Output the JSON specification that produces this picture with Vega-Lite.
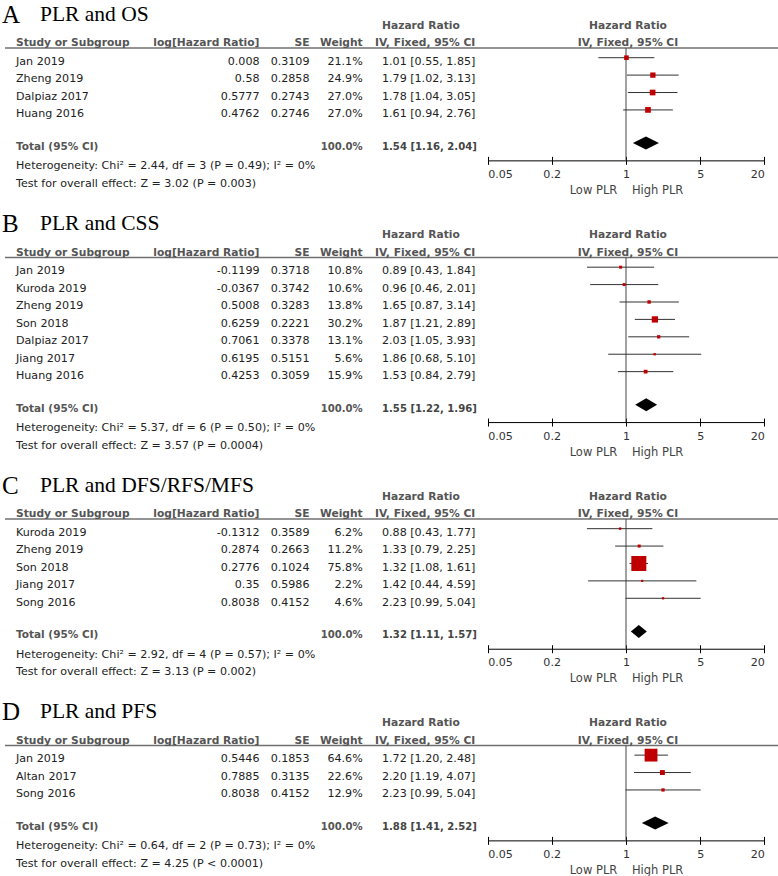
{
"$schema": "https://vega.github.io/schema/vega-lite/v6.json",
"padding": 0,
"autosize": {"type": "pad"},
"background": "white",
"bounds": "flush",
"spacing": 15.48,
"config": {"view": {"stroke": null}, "axis": {"grid": false}},
"resolve": {"scale": {"x": "independent", "y": "independent", "size": "independent"}},
"datasets": {
"titles": [
{"panel":"A","letter":"A","title":"PLR and OS"},
{"panel":"B","letter":"B","title":"PLR and CSS"},
{"panel":"C","letter":"C","title":"PLR and DFS/RFS/MFS"},
{"panel":"D","letter":"D","title":"PLR and PFS"}
],
"headers": [
{"text":"Study or Subgroup","col":2,"row":-1,"anchor":"left"},
{"text":"log[Hazard Ratio]","col":4,"row":-1,"anchor":"right"},
{"text":"SE","col":5,"row":-1,"anchor":"right"},
{"text":"Weight","col":6,"row":-1,"anchor":"right"},
{"text":"Hazard Ratio","col":8,"row":-2,"anchor":"left"},
{"text":"IV, Fixed, 95% CI","col":7,"row":-1,"anchor":"left"},
{"text":"Hazard Ratio","col":9,"row":-2,"anchor":"center"},
{"text":"IV, Fixed, 95% CI","col":9,"row":-1,"anchor":"center"}
],
"studies": [
{"panel":"A","row":0,"study":"Jan 2019","lhr":0.008,"se":0.3109,"w":0.211,"hr":1.01,"lo":0.55,"hi":1.85,"ci":"1.01 [0.55, 1.85]"},
{"panel":"A","row":1,"study":"Zheng 2019","lhr":0.58,"se":0.2858,"w":0.249,"hr":1.79,"lo":1.02,"hi":3.13,"ci":"1.79 [1.02, 3.13]"},
{"panel":"A","row":2,"study":"Dalpiaz 2017","lhr":0.5777,"se":0.2743,"w":0.27,"hr":1.78,"lo":1.04,"hi":3.05,"ci":"1.78 [1.04, 3.05]"},
{"panel":"A","row":3,"study":"Huang 2016","lhr":0.4762,"se":0.2746,"w":0.27,"hr":1.61,"lo":0.94,"hi":2.76,"ci":"1.61 [0.94, 2.76]"},
{"panel":"B","row":0,"study":"Jan 2019","lhr":-0.1199,"se":0.3718,"w":0.108,"hr":0.89,"lo":0.43,"hi":1.84,"ci":"0.89 [0.43, 1.84]"},
{"panel":"B","row":1,"study":"Kuroda 2019","lhr":-0.0367,"se":0.3742,"w":0.106,"hr":0.96,"lo":0.46,"hi":2.01,"ci":"0.96 [0.46, 2.01]"},
{"panel":"B","row":2,"study":"Zheng 2019","lhr":0.5008,"se":0.3283,"w":0.138,"hr":1.65,"lo":0.87,"hi":3.14,"ci":"1.65 [0.87, 3.14]"},
{"panel":"B","row":3,"study":"Son 2018","lhr":0.6259,"se":0.2221,"w":0.302,"hr":1.87,"lo":1.21,"hi":2.89,"ci":"1.87 [1.21, 2.89]"},
{"panel":"B","row":4,"study":"Dalpiaz 2017","lhr":0.7061,"se":0.3378,"w":0.131,"hr":2.03,"lo":1.05,"hi":3.93,"ci":"2.03 [1.05, 3.93]"},
{"panel":"B","row":5,"study":"Jiang 2017","lhr":0.6195,"se":0.5151,"w":0.056,"hr":1.86,"lo":0.68,"hi":5.10,"ci":"1.86 [0.68, 5.10]"},
{"panel":"B","row":6,"study":"Huang 2016","lhr":0.4253,"se":0.3059,"w":0.159,"hr":1.53,"lo":0.84,"hi":2.79,"ci":"1.53 [0.84, 2.79]"},
{"panel":"C","row":0,"study":"Kuroda 2019","lhr":-0.1312,"se":0.3589,"w":0.062,"hr":0.88,"lo":0.43,"hi":1.77,"ci":"0.88 [0.43, 1.77]"},
{"panel":"C","row":1,"study":"Zheng 2019","lhr":0.2874,"se":0.2663,"w":0.112,"hr":1.33,"lo":0.79,"hi":2.25,"ci":"1.33 [0.79, 2.25]"},
{"panel":"C","row":2,"study":"Son 2018","lhr":0.2776,"se":0.1024,"w":0.758,"hr":1.32,"lo":1.08,"hi":1.61,"ci":"1.32 [1.08, 1.61]"},
{"panel":"C","row":3,"study":"Jiang 2017","lhr":0.35,"se":0.5986,"w":0.022,"hr":1.42,"lo":0.44,"hi":4.59,"ci":"1.42 [0.44, 4.59]"},
{"panel":"C","row":4,"study":"Song 2016","lhr":0.8038,"se":0.4152,"w":0.046,"hr":2.23,"lo":0.99,"hi":5.04,"ci":"2.23 [0.99, 5.04]"},
{"panel":"D","row":0,"study":"Jan 2019","lhr":0.5446,"se":0.1853,"w":0.646,"hr":1.72,"lo":1.20,"hi":2.48,"ci":"1.72 [1.20, 2.48]"},
{"panel":"D","row":1,"study":"Altan 2017","lhr":0.7885,"se":0.3135,"w":0.226,"hr":2.20,"lo":1.19,"hi":4.07,"ci":"2.20 [1.19, 4.07]"},
{"panel":"D","row":2,"study":"Song 2016","lhr":0.8038,"se":0.4152,"w":0.129,"hr":2.23,"lo":0.99,"hi":5.04,"ci":"2.23 [0.99, 5.04]"}
],
"totals": [
{"panel":"A","row":5,"label":"Total (95% CI)","w":1,"hr":1.54,"lo":1.16,"hi":2.04,"ci":"1.54 [1.16, 2.04]"},
{"panel":"B","row":8,"label":"Total (95% CI)","w":1,"hr":1.55,"lo":1.22,"hi":1.96,"ci":"1.55 [1.22, 1.96]"},
{"panel":"C","row":6,"label":"Total (95% CI)","w":1,"hr":1.32,"lo":1.11,"hi":1.57,"ci":"1.32 [1.11, 1.57]"},
{"panel":"D","row":4,"label":"Total (95% CI)","w":1,"hr":1.88,"lo":1.41,"hi":2.52,"ci":"1.88 [1.41, 2.52]"}
],
"notes": [
{"panel":"A","row":6,"text":"Heterogeneity: Chi² = 2.44, df = 3 (P = 0.49); I² = 0%"},
{"panel":"A","row":7,"text":"Test for overall effect: Z = 3.02 (P = 0.003)"},
{"panel":"B","row":9,"text":"Heterogeneity: Chi² = 5.37, df = 6 (P = 0.50); I² = 0%"},
{"panel":"B","row":10,"text":"Test for overall effect: Z = 3.57 (P = 0.0004)"},
{"panel":"C","row":7,"text":"Heterogeneity: Chi² = 2.92, df = 4 (P = 0.57); I² = 0%"},
{"panel":"C","row":8,"text":"Test for overall effect: Z = 3.13 (P = 0.002)"},
{"panel":"D","row":5,"text":"Heterogeneity: Chi² = 0.64, df = 2 (P = 0.73); I² = 0%"},
{"panel":"D","row":6,"text":"Test for overall effect: Z = 4.25 (P < 0.0001)"}
]
},
"vconcat": [
{
"width": 778, "height": 193.44,
"data": {"name": "titles"},
"transform": [{"filter": "datum.panel == 'A'"}],
"resolve": {"scale": {"x": "independent"}, "axis": {"x": "independent"}},
"layer": [
{"mark":{"type":"rule","stroke":"#707070","strokeWidth":1.5},"encoding":{"x":{"datum":1,"type":"quantitative","scale":{"type":"linear","domain":[0,1,2,3,4,5,6,7,8,9,10],"range":[2,5,16,40,259.5,309.5,362.7,375,382,628,778],"zero":false,"nice":false},"axis":null},"x2":{"datum":10},"y":{"datum":-0.8,"type":"quantitative","scale":{"domain":[-3.561,7.55],"reverse":true,"nice":false,"zero":false},"axis":null}}},
{"mark":{"type":"text","font":"Liberation Serif","fontSize":25,"color":"#000","align":"left","baseline":"alphabetic"},"encoding":{"x":{"datum":0,"type":"quantitative","scale":{"type":"linear","domain":[0,1,2,3,4,5,6,7,8,9,10],"range":[2,5,16,40,259.5,309.5,362.7,375,382,628,778],"zero":false,"nice":false},"axis":null},"y":{"datum":-2.263,"type":"quantitative","scale":{"domain":[-3.561,7.55],"reverse":true,"nice":false,"zero":false},"axis":null},"text":{"field":"letter","type":"nominal"}}},
{"mark":{"type":"text","font":"Liberation Serif","fontSize":21.5,"color":"#000","align":"left","baseline":"alphabetic"},"encoding":{"x":{"datum":3,"type":"quantitative","scale":{"type":"linear","domain":[0,1,2,3,4,5,6,7,8,9,10],"range":[2,5,16,40,259.5,309.5,362.7,375,382,628,778],"zero":false,"nice":false},"axis":null},"y":{"datum":-2.36,"type":"quantitative","scale":{"domain":[-3.561,7.55],"reverse":true,"nice":false,"zero":false},"axis":null},"text":{"field":"title","type":"nominal"}}},
{"data":{"name":"headers"},"transform":[{"filter":"datum.anchor == 'left'"}],"mark":{"type":"text","font":"DejaVu Sans","fontSize":10.7,"fontWeight":"bold","color":"#555","align":"left","baseline":"middle","dy":-1.2},"encoding":{"x":{"field":"col","type":"quantitative","scale":{"type":"linear","domain":[0,1,2,3,4,5,6,7,8,9,10],"range":[2,5,16,40,259.5,309.5,362.7,375,382,628,778],"zero":false,"nice":false},"axis":null},"y":{"field":"row","type":"quantitative","scale":{"domain":[-3.561,7.55],"reverse":true,"nice":false,"zero":false},"axis":null},"text":{"field":"text","type":"nominal"}}},
{"data":{"name":"headers"},"transform":[{"filter":"datum.anchor == 'right'"}],"mark":{"type":"text","font":"DejaVu Sans","fontSize":10.7,"fontWeight":"bold","color":"#555","align":"right","baseline":"middle","dy":-1.2},"encoding":{"x":{"field":"col","type":"quantitative","scale":{"type":"linear","domain":[0,1,2,3,4,5,6,7,8,9,10],"range":[2,5,16,40,259.5,309.5,362.7,375,382,628,778],"zero":false,"nice":false},"axis":null},"y":{"field":"row","type":"quantitative","scale":{"domain":[-3.561,7.55],"reverse":true,"nice":false,"zero":false},"axis":null},"text":{"field":"text","type":"nominal"}}},
{"data":{"name":"headers"},"transform":[{"filter":"datum.anchor == 'center'"}],"mark":{"type":"text","font":"DejaVu Sans","fontSize":10.7,"fontWeight":"bold","color":"#555","align":"center","baseline":"middle","dy":-1.2},"encoding":{"x":{"field":"col","type":"quantitative","scale":{"type":"linear","domain":[0,1,2,3,4,5,6,7,8,9,10],"range":[2,5,16,40,259.5,309.5,362.7,375,382,628,778],"zero":false,"nice":false},"axis":null},"y":{"field":"row","type":"quantitative","scale":{"domain":[-3.561,7.55],"reverse":true,"nice":false,"zero":false},"axis":null},"text":{"field":"text","type":"nominal"}}},
{"data":{"name":"studies"},"transform":[{"filter":"datum.panel == 'A'"}],"mark":{"type":"text","font":"DejaVu Sans","fontSize":11.1,"color":"#222","align":"left","baseline":"middle"},"encoding":{"x":{"datum":2,"type":"quantitative","scale":{"type":"linear","domain":[0,1,2,3,4,5,6,7,8,9,10],"range":[2,5,16,40,259.5,309.5,362.7,375,382,628,778],"zero":false,"nice":false},"axis":null},"y":{"field":"row","type":"quantitative","scale":{"domain":[-3.561,7.55],"reverse":true,"nice":false,"zero":false},"axis":null},"text":{"field":"study","type":"nominal"}}},
{"data":{"name":"studies"},"transform":[{"filter":"datum.panel == 'A'"}],"mark":{"type":"text","font":"DejaVu Sans","fontSize":11.1,"color":"#222","align":"right","baseline":"middle"},"encoding":{"x":{"datum":4,"type":"quantitative","scale":{"type":"linear","domain":[0,1,2,3,4,5,6,7,8,9,10],"range":[2,5,16,40,259.5,309.5,362.7,375,382,628,778],"zero":false,"nice":false},"axis":null},"y":{"field":"row","type":"quantitative","scale":{"domain":[-3.561,7.55],"reverse":true,"nice":false,"zero":false},"axis":null},"text":{"field":"lhr","type":"nominal"}}},
{"data":{"name":"studies"},"transform":[{"filter":"datum.panel == 'A'"}],"mark":{"type":"text","font":"DejaVu Sans","fontSize":11.1,"color":"#222","align":"right","baseline":"middle"},"encoding":{"x":{"datum":5,"type":"quantitative","scale":{"type":"linear","domain":[0,1,2,3,4,5,6,7,8,9,10],"range":[2,5,16,40,259.5,309.5,362.7,375,382,628,778],"zero":false,"nice":false},"axis":null},"y":{"field":"row","type":"quantitative","scale":{"domain":[-3.561,7.55],"reverse":true,"nice":false,"zero":false},"axis":null},"text":{"field":"se","type":"nominal"}}},
{"data":{"name":"studies"},"transform":[{"filter":"datum.panel == 'A'"}],"mark":{"type":"text","font":"DejaVu Sans","fontSize":11.1,"color":"#222","align":"right","baseline":"middle"},"encoding":{"x":{"datum":6,"type":"quantitative","scale":{"type":"linear","domain":[0,1,2,3,4,5,6,7,8,9,10],"range":[2,5,16,40,259.5,309.5,362.7,375,382,628,778],"zero":false,"nice":false},"axis":null},"y":{"field":"row","type":"quantitative","scale":{"domain":[-3.561,7.55],"reverse":true,"nice":false,"zero":false},"axis":null},"text":{"field":"w","type":"quantitative","format":".1%"}}},
{"data":{"name":"studies"},"transform":[{"filter":"datum.panel == 'A'"}],"mark":{"type":"text","font":"DejaVu Sans","fontSize":11.1,"color":"#222","align":"left","baseline":"middle"},"encoding":{"x":{"datum":8,"type":"quantitative","scale":{"type":"linear","domain":[0,1,2,3,4,5,6,7,8,9,10],"range":[2,5,16,40,259.5,309.5,362.7,375,382,628,778],"zero":false,"nice":false},"axis":null},"y":{"field":"row","type":"quantitative","scale":{"domain":[-3.561,7.55],"reverse":true,"nice":false,"zero":false},"axis":null},"text":{"field":"ci","type":"nominal"}}},
{"data":{"name":"totals"},"transform":[{"filter":"datum.panel == 'A'"}],"mark":{"type":"text","font":"DejaVu Sans","fontSize":10.5,"fontWeight":"bold","color":"#555","align":"left","baseline":"middle","dy":-2},"encoding":{"x":{"datum":2,"type":"quantitative","scale":{"type":"linear","domain":[0,1,2,3,4,5,6,7,8,9,10],"range":[2,5,16,40,259.5,309.5,362.7,375,382,628,778],"zero":false,"nice":false},"axis":null},"y":{"field":"row","type":"quantitative","scale":{"domain":[-3.561,7.55],"reverse":true,"nice":false,"zero":false},"axis":null},"text":{"field":"label","type":"nominal"}}},
{"data":{"name":"totals"},"transform":[{"filter":"datum.panel == 'A'"}],"mark":{"type":"text","font":"DejaVu Sans","fontSize":10.1,"fontWeight":"bold","color":"#555","align":"right","baseline":"middle","dy":-2},"encoding":{"x":{"datum":6,"type":"quantitative","scale":{"type":"linear","domain":[0,1,2,3,4,5,6,7,8,9,10],"range":[2,5,16,40,259.5,309.5,362.7,375,382,628,778],"zero":false,"nice":false},"axis":null},"y":{"field":"row","type":"quantitative","scale":{"domain":[-3.561,7.55],"reverse":true,"nice":false,"zero":false},"axis":null},"text":{"field":"w","type":"quantitative","format":".1%"}}},
{"data":{"name":"totals"},"transform":[{"filter":"datum.panel == 'A'"}],"mark":{"type":"text","font":"DejaVu Sans","fontSize":10.1,"fontWeight":"bold","color":"#444","align":"left","baseline":"middle","dy":-2},"encoding":{"x":{"datum":8,"type":"quantitative","scale":{"type":"linear","domain":[0,1,2,3,4,5,6,7,8,9,10],"range":[2,5,16,40,259.5,309.5,362.7,375,382,628,778],"zero":false,"nice":false},"axis":null},"y":{"field":"row","type":"quantitative","scale":{"domain":[-3.561,7.55],"reverse":true,"nice":false,"zero":false},"axis":null},"text":{"field":"ci","type":"nominal"}}},
{"data":{"name":"notes"},"transform":[{"filter":"datum.panel == 'A'"}],"mark":{"type":"text","font":"DejaVu Sans","fontSize":11.1,"color":"#222","align":"left","baseline":"middle"},"encoding":{"x":{"datum":2,"type":"quantitative","scale":{"type":"linear","domain":[0,1,2,3,4,5,6,7,8,9,10],"range":[2,5,16,40,259.5,309.5,362.7,375,382,628,778],"zero":false,"nice":false},"axis":null},"y":{"field":"row","type":"quantitative","scale":{"domain":[-3.561,7.55],"reverse":true,"nice":false,"zero":false},"axis":null},"text":{"field":"text","type":"nominal"}}},
{"mark":{"type":"rule","stroke":"#444","strokeWidth":1},"encoding":{"x":{"datum":1,"type":"quantitative","scale":{"type":"log","domain":[0.05,20],"range":[487.7,764.3],"nice":false},"axis":{"orient":"top","offset":-160.36,"values":[0.05,0.2,1,5,20],"grid":false,"domain":false,"labels":false,"ticks":true,"tickColor":"#000","tickSize":4,"tickWidth":1,"title":null}},"y":{"datum":-0.8,"type":"quantitative","scale":{"domain":[-3.561,7.55],"reverse":true,"nice":false,"zero":false},"axis":null},"y2":{"datum":5.65}}},
{"data":{"name":"studies"},"transform":[{"filter":"datum.panel == 'A'"}],"mark":{"type":"rule","stroke":"#333","strokeWidth":1,"yOffset":-4.3},"encoding":{"x":{"field":"lo","type":"quantitative","scale":{"type":"log","domain":[0.05,20],"range":[487.7,764.3],"nice":false},"axis":null},"x2":{"field":"hi"},"y":{"field":"row","type":"quantitative","scale":{"domain":[-3.561,7.55],"reverse":true,"nice":false,"zero":false},"axis":null}}},
{"data":{"name":"studies"},"transform":[{"filter":"datum.panel == 'A'"}],"mark":{"type":"point","shape":"square","filled":true,"color":"#c00000","opacity":1,"yOffset":-4.3},"encoding":{"x":{"field":"hr","type":"quantitative","scale":{"type":"log","domain":[0.05,20],"range":[487.7,764.3],"nice":false},"axis":{"orient":"bottom","offset":-33.08,"values":[0.05,0.2,1,5,20],"format":"~g","grid":false,"domainColor":"#000","domainWidth":1,"tickColor":"#000","tickSize":4,"tickWidth":1,"labelFont":"DejaVu Sans","labelFontSize":11.1,"labelColor":"#333","labelPadding":4,"labelFlush":true,"labelOverlap":false,"title":"Low PLR\u00a0\u00a0\u00a0\u00a0High PLR","titleFont":"DejaVu Sans","titleFontSize":11.5,"titleFontWeight":"normal","titleColor":"#444","titlePadding":5}},"y":{"field":"row","type":"quantitative","scale":{"domain":[-3.561,7.55],"reverse":true,"nice":false,"zero":false},"axis":null},"size":{"field":"w","type":"quantitative","scale":{"type":"pow","exponent":2,"domain":[0,1],"range":[4.4,388.4]},"legend":null}}},
{"data":{"name":"totals"},"transform":[{"filter":"datum.panel == 'A'"},{"fold":["lo","hr","hi"],"as":["key","x"]}],"mark":{"type":"area","color":"#000","yOffset":{"expr":"datum.key === 'hr' ? -12.5 : -6"},"y2Offset":{"expr":"datum.key === 'hr' ? 0.5 : -6"}},"encoding":{"x":{"field":"x","type":"quantitative","scale":{"type":"log","domain":[0.05,20],"range":[487.7,764.3],"nice":false},"axis":null},"y":{"field":"row","type":"quantitative","scale":{"domain":[-3.561,7.55],"reverse":true,"nice":false,"zero":false},"axis":null},"y2":{"field":"row"}}}
]
},
{
"width": 778, "height": 245.67,
"data": {"name": "titles"},
"transform": [{"filter": "datum.panel == 'B'"}],
"resolve": {"scale": {"x": "independent"}, "axis": {"x": "independent"}},
"layer": [
{"mark":{"type":"rule","stroke":"#707070","strokeWidth":1.5},"encoding":{"x":{"datum":1,"type":"quantitative","scale":{"type":"linear","domain":[0,1,2,3,4,5,6,7,8,9,10],"range":[2,5,16,40,259.5,309.5,362.7,375,382,628,778],"zero":false,"nice":false},"axis":null},"x2":{"datum":10},"y":{"datum":-0.8,"type":"quantitative","scale":{"domain":[-3.561,10.55],"reverse":true,"nice":false,"zero":false},"axis":null}}},
{"mark":{"type":"text","font":"Liberation Serif","fontSize":25,"color":"#000","align":"left","baseline":"alphabetic"},"encoding":{"x":{"datum":0,"type":"quantitative","scale":{"type":"linear","domain":[0,1,2,3,4,5,6,7,8,9,10],"range":[2,5,16,40,259.5,309.5,362.7,375,382,628,778],"zero":false,"nice":false},"axis":null},"y":{"datum":-2.263,"type":"quantitative","scale":{"domain":[-3.561,10.55],"reverse":true,"nice":false,"zero":false},"axis":null},"text":{"field":"letter","type":"nominal"}}},
{"mark":{"type":"text","font":"Liberation Serif","fontSize":21.5,"color":"#000","align":"left","baseline":"alphabetic"},"encoding":{"x":{"datum":3,"type":"quantitative","scale":{"type":"linear","domain":[0,1,2,3,4,5,6,7,8,9,10],"range":[2,5,16,40,259.5,309.5,362.7,375,382,628,778],"zero":false,"nice":false},"axis":null},"y":{"datum":-2.36,"type":"quantitative","scale":{"domain":[-3.561,10.55],"reverse":true,"nice":false,"zero":false},"axis":null},"text":{"field":"title","type":"nominal"}}},
{"data":{"name":"headers"},"transform":[{"filter":"datum.anchor == 'left'"}],"mark":{"type":"text","font":"DejaVu Sans","fontSize":10.7,"fontWeight":"bold","color":"#555","align":"left","baseline":"middle","dy":-1.2},"encoding":{"x":{"field":"col","type":"quantitative","scale":{"type":"linear","domain":[0,1,2,3,4,5,6,7,8,9,10],"range":[2,5,16,40,259.5,309.5,362.7,375,382,628,778],"zero":false,"nice":false},"axis":null},"y":{"field":"row","type":"quantitative","scale":{"domain":[-3.561,10.55],"reverse":true,"nice":false,"zero":false},"axis":null},"text":{"field":"text","type":"nominal"}}},
{"data":{"name":"headers"},"transform":[{"filter":"datum.anchor == 'right'"}],"mark":{"type":"text","font":"DejaVu Sans","fontSize":10.7,"fontWeight":"bold","color":"#555","align":"right","baseline":"middle","dy":-1.2},"encoding":{"x":{"field":"col","type":"quantitative","scale":{"type":"linear","domain":[0,1,2,3,4,5,6,7,8,9,10],"range":[2,5,16,40,259.5,309.5,362.7,375,382,628,778],"zero":false,"nice":false},"axis":null},"y":{"field":"row","type":"quantitative","scale":{"domain":[-3.561,10.55],"reverse":true,"nice":false,"zero":false},"axis":null},"text":{"field":"text","type":"nominal"}}},
{"data":{"name":"headers"},"transform":[{"filter":"datum.anchor == 'center'"}],"mark":{"type":"text","font":"DejaVu Sans","fontSize":10.7,"fontWeight":"bold","color":"#555","align":"center","baseline":"middle","dy":-1.2},"encoding":{"x":{"field":"col","type":"quantitative","scale":{"type":"linear","domain":[0,1,2,3,4,5,6,7,8,9,10],"range":[2,5,16,40,259.5,309.5,362.7,375,382,628,778],"zero":false,"nice":false},"axis":null},"y":{"field":"row","type":"quantitative","scale":{"domain":[-3.561,10.55],"reverse":true,"nice":false,"zero":false},"axis":null},"text":{"field":"text","type":"nominal"}}},
{"data":{"name":"studies"},"transform":[{"filter":"datum.panel == 'B'"}],"mark":{"type":"text","font":"DejaVu Sans","fontSize":11.1,"color":"#222","align":"left","baseline":"middle"},"encoding":{"x":{"datum":2,"type":"quantitative","scale":{"type":"linear","domain":[0,1,2,3,4,5,6,7,8,9,10],"range":[2,5,16,40,259.5,309.5,362.7,375,382,628,778],"zero":false,"nice":false},"axis":null},"y":{"field":"row","type":"quantitative","scale":{"domain":[-3.561,10.55],"reverse":true,"nice":false,"zero":false},"axis":null},"text":{"field":"study","type":"nominal"}}},
{"data":{"name":"studies"},"transform":[{"filter":"datum.panel == 'B'"}],"mark":{"type":"text","font":"DejaVu Sans","fontSize":11.1,"color":"#222","align":"right","baseline":"middle"},"encoding":{"x":{"datum":4,"type":"quantitative","scale":{"type":"linear","domain":[0,1,2,3,4,5,6,7,8,9,10],"range":[2,5,16,40,259.5,309.5,362.7,375,382,628,778],"zero":false,"nice":false},"axis":null},"y":{"field":"row","type":"quantitative","scale":{"domain":[-3.561,10.55],"reverse":true,"nice":false,"zero":false},"axis":null},"text":{"field":"lhr","type":"nominal"}}},
{"data":{"name":"studies"},"transform":[{"filter":"datum.panel == 'B'"}],"mark":{"type":"text","font":"DejaVu Sans","fontSize":11.1,"color":"#222","align":"right","baseline":"middle"},"encoding":{"x":{"datum":5,"type":"quantitative","scale":{"type":"linear","domain":[0,1,2,3,4,5,6,7,8,9,10],"range":[2,5,16,40,259.5,309.5,362.7,375,382,628,778],"zero":false,"nice":false},"axis":null},"y":{"field":"row","type":"quantitative","scale":{"domain":[-3.561,10.55],"reverse":true,"nice":false,"zero":false},"axis":null},"text":{"field":"se","type":"nominal"}}},
{"data":{"name":"studies"},"transform":[{"filter":"datum.panel == 'B'"}],"mark":{"type":"text","font":"DejaVu Sans","fontSize":11.1,"color":"#222","align":"right","baseline":"middle"},"encoding":{"x":{"datum":6,"type":"quantitative","scale":{"type":"linear","domain":[0,1,2,3,4,5,6,7,8,9,10],"range":[2,5,16,40,259.5,309.5,362.7,375,382,628,778],"zero":false,"nice":false},"axis":null},"y":{"field":"row","type":"quantitative","scale":{"domain":[-3.561,10.55],"reverse":true,"nice":false,"zero":false},"axis":null},"text":{"field":"w","type":"quantitative","format":".1%"}}},
{"data":{"name":"studies"},"transform":[{"filter":"datum.panel == 'B'"}],"mark":{"type":"text","font":"DejaVu Sans","fontSize":11.1,"color":"#222","align":"left","baseline":"middle"},"encoding":{"x":{"datum":8,"type":"quantitative","scale":{"type":"linear","domain":[0,1,2,3,4,5,6,7,8,9,10],"range":[2,5,16,40,259.5,309.5,362.7,375,382,628,778],"zero":false,"nice":false},"axis":null},"y":{"field":"row","type":"quantitative","scale":{"domain":[-3.561,10.55],"reverse":true,"nice":false,"zero":false},"axis":null},"text":{"field":"ci","type":"nominal"}}},
{"data":{"name":"totals"},"transform":[{"filter":"datum.panel == 'B'"}],"mark":{"type":"text","font":"DejaVu Sans","fontSize":10.5,"fontWeight":"bold","color":"#555","align":"left","baseline":"middle","dy":-2},"encoding":{"x":{"datum":2,"type":"quantitative","scale":{"type":"linear","domain":[0,1,2,3,4,5,6,7,8,9,10],"range":[2,5,16,40,259.5,309.5,362.7,375,382,628,778],"zero":false,"nice":false},"axis":null},"y":{"field":"row","type":"quantitative","scale":{"domain":[-3.561,10.55],"reverse":true,"nice":false,"zero":false},"axis":null},"text":{"field":"label","type":"nominal"}}},
{"data":{"name":"totals"},"transform":[{"filter":"datum.panel == 'B'"}],"mark":{"type":"text","font":"DejaVu Sans","fontSize":10.1,"fontWeight":"bold","color":"#555","align":"right","baseline":"middle","dy":-2},"encoding":{"x":{"datum":6,"type":"quantitative","scale":{"type":"linear","domain":[0,1,2,3,4,5,6,7,8,9,10],"range":[2,5,16,40,259.5,309.5,362.7,375,382,628,778],"zero":false,"nice":false},"axis":null},"y":{"field":"row","type":"quantitative","scale":{"domain":[-3.561,10.55],"reverse":true,"nice":false,"zero":false},"axis":null},"text":{"field":"w","type":"quantitative","format":".1%"}}},
{"data":{"name":"totals"},"transform":[{"filter":"datum.panel == 'B'"}],"mark":{"type":"text","font":"DejaVu Sans","fontSize":10.1,"fontWeight":"bold","color":"#444","align":"left","baseline":"middle","dy":-2},"encoding":{"x":{"datum":8,"type":"quantitative","scale":{"type":"linear","domain":[0,1,2,3,4,5,6,7,8,9,10],"range":[2,5,16,40,259.5,309.5,362.7,375,382,628,778],"zero":false,"nice":false},"axis":null},"y":{"field":"row","type":"quantitative","scale":{"domain":[-3.561,10.55],"reverse":true,"nice":false,"zero":false},"axis":null},"text":{"field":"ci","type":"nominal"}}},
{"data":{"name":"notes"},"transform":[{"filter":"datum.panel == 'B'"}],"mark":{"type":"text","font":"DejaVu Sans","fontSize":11.1,"color":"#222","align":"left","baseline":"middle"},"encoding":{"x":{"datum":2,"type":"quantitative","scale":{"type":"linear","domain":[0,1,2,3,4,5,6,7,8,9,10],"range":[2,5,16,40,259.5,309.5,362.7,375,382,628,778],"zero":false,"nice":false},"axis":null},"y":{"field":"row","type":"quantitative","scale":{"domain":[-3.561,10.55],"reverse":true,"nice":false,"zero":false},"axis":null},"text":{"field":"text","type":"nominal"}}},
{"mark":{"type":"rule","stroke":"#444","strokeWidth":1},"encoding":{"x":{"datum":1,"type":"quantitative","scale":{"type":"log","domain":[0.05,20],"range":[487.7,764.3],"nice":false},"axis":{"orient":"top","offset":-212.59,"values":[0.05,0.2,1,5,20],"grid":false,"domain":false,"labels":false,"ticks":true,"tickColor":"#000","tickSize":4,"tickWidth":1,"title":null}},"y":{"datum":-0.8,"type":"quantitative","scale":{"domain":[-3.561,10.55],"reverse":true,"nice":false,"zero":false},"axis":null},"y2":{"datum":8.65}}},
{"data":{"name":"studies"},"transform":[{"filter":"datum.panel == 'B'"}],"mark":{"type":"rule","stroke":"#333","strokeWidth":1,"yOffset":-4.3},"encoding":{"x":{"field":"lo","type":"quantitative","scale":{"type":"log","domain":[0.05,20],"range":[487.7,764.3],"nice":false},"axis":null},"x2":{"field":"hi"},"y":{"field":"row","type":"quantitative","scale":{"domain":[-3.561,10.55],"reverse":true,"nice":false,"zero":false},"axis":null}}},
{"data":{"name":"studies"},"transform":[{"filter":"datum.panel == 'B'"}],"mark":{"type":"point","shape":"square","filled":true,"color":"#c00000","opacity":1,"yOffset":-4.3},"encoding":{"x":{"field":"hr","type":"quantitative","scale":{"type":"log","domain":[0.05,20],"range":[487.7,764.3],"nice":false},"axis":{"orient":"bottom","offset":-33.08,"values":[0.05,0.2,1,5,20],"format":"~g","grid":false,"domainColor":"#000","domainWidth":1,"tickColor":"#000","tickSize":4,"tickWidth":1,"labelFont":"DejaVu Sans","labelFontSize":11.1,"labelColor":"#333","labelPadding":4,"labelFlush":true,"labelOverlap":false,"title":"Low PLR\u00a0\u00a0\u00a0\u00a0High PLR","titleFont":"DejaVu Sans","titleFontSize":11.5,"titleFontWeight":"normal","titleColor":"#444","titlePadding":5}},"y":{"field":"row","type":"quantitative","scale":{"domain":[-3.561,10.55],"reverse":true,"nice":false,"zero":false},"axis":null},"size":{"field":"w","type":"quantitative","scale":{"type":"pow","exponent":2,"domain":[0,1],"range":[4.4,388.4]},"legend":null}}},
{"data":{"name":"totals"},"transform":[{"filter":"datum.panel == 'B'"},{"fold":["lo","hr","hi"],"as":["key","x"]}],"mark":{"type":"area","color":"#000","yOffset":{"expr":"datum.key === 'hr' ? -12.5 : -6"},"y2Offset":{"expr":"datum.key === 'hr' ? 0.5 : -6"}},"encoding":{"x":{"field":"x","type":"quantitative","scale":{"type":"log","domain":[0.05,20],"range":[487.7,764.3],"nice":false},"axis":null},"y":{"field":"row","type":"quantitative","scale":{"domain":[-3.561,10.55],"reverse":true,"nice":false,"zero":false},"axis":null},"y2":{"field":"row"}}}
]
},
{
"width": 778, "height": 210.85,
"data": {"name": "titles"},
"transform": [{"filter": "datum.panel == 'C'"}],
"resolve": {"scale": {"x": "independent"}, "axis": {"x": "independent"}},
"layer": [
{"mark":{"type":"rule","stroke":"#707070","strokeWidth":1.5},"encoding":{"x":{"datum":1,"type":"quantitative","scale":{"type":"linear","domain":[0,1,2,3,4,5,6,7,8,9,10],"range":[2,5,16,40,259.5,309.5,362.7,375,382,628,778],"zero":false,"nice":false},"axis":null},"x2":{"datum":10},"y":{"datum":-0.8,"type":"quantitative","scale":{"domain":[-3.561,8.55],"reverse":true,"nice":false,"zero":false},"axis":null}}},
{"mark":{"type":"text","font":"Liberation Serif","fontSize":25,"color":"#000","align":"left","baseline":"alphabetic"},"encoding":{"x":{"datum":0,"type":"quantitative","scale":{"type":"linear","domain":[0,1,2,3,4,5,6,7,8,9,10],"range":[2,5,16,40,259.5,309.5,362.7,375,382,628,778],"zero":false,"nice":false},"axis":null},"y":{"datum":-2.263,"type":"quantitative","scale":{"domain":[-3.561,8.55],"reverse":true,"nice":false,"zero":false},"axis":null},"text":{"field":"letter","type":"nominal"}}},
{"mark":{"type":"text","font":"Liberation Serif","fontSize":21.5,"color":"#000","align":"left","baseline":"alphabetic"},"encoding":{"x":{"datum":3,"type":"quantitative","scale":{"type":"linear","domain":[0,1,2,3,4,5,6,7,8,9,10],"range":[2,5,16,40,259.5,309.5,362.7,375,382,628,778],"zero":false,"nice":false},"axis":null},"y":{"datum":-2.36,"type":"quantitative","scale":{"domain":[-3.561,8.55],"reverse":true,"nice":false,"zero":false},"axis":null},"text":{"field":"title","type":"nominal"}}},
{"data":{"name":"headers"},"transform":[{"filter":"datum.anchor == 'left'"}],"mark":{"type":"text","font":"DejaVu Sans","fontSize":10.7,"fontWeight":"bold","color":"#555","align":"left","baseline":"middle","dy":-1.2},"encoding":{"x":{"field":"col","type":"quantitative","scale":{"type":"linear","domain":[0,1,2,3,4,5,6,7,8,9,10],"range":[2,5,16,40,259.5,309.5,362.7,375,382,628,778],"zero":false,"nice":false},"axis":null},"y":{"field":"row","type":"quantitative","scale":{"domain":[-3.561,8.55],"reverse":true,"nice":false,"zero":false},"axis":null},"text":{"field":"text","type":"nominal"}}},
{"data":{"name":"headers"},"transform":[{"filter":"datum.anchor == 'right'"}],"mark":{"type":"text","font":"DejaVu Sans","fontSize":10.7,"fontWeight":"bold","color":"#555","align":"right","baseline":"middle","dy":-1.2},"encoding":{"x":{"field":"col","type":"quantitative","scale":{"type":"linear","domain":[0,1,2,3,4,5,6,7,8,9,10],"range":[2,5,16,40,259.5,309.5,362.7,375,382,628,778],"zero":false,"nice":false},"axis":null},"y":{"field":"row","type":"quantitative","scale":{"domain":[-3.561,8.55],"reverse":true,"nice":false,"zero":false},"axis":null},"text":{"field":"text","type":"nominal"}}},
{"data":{"name":"headers"},"transform":[{"filter":"datum.anchor == 'center'"}],"mark":{"type":"text","font":"DejaVu Sans","fontSize":10.7,"fontWeight":"bold","color":"#555","align":"center","baseline":"middle","dy":-1.2},"encoding":{"x":{"field":"col","type":"quantitative","scale":{"type":"linear","domain":[0,1,2,3,4,5,6,7,8,9,10],"range":[2,5,16,40,259.5,309.5,362.7,375,382,628,778],"zero":false,"nice":false},"axis":null},"y":{"field":"row","type":"quantitative","scale":{"domain":[-3.561,8.55],"reverse":true,"nice":false,"zero":false},"axis":null},"text":{"field":"text","type":"nominal"}}},
{"data":{"name":"studies"},"transform":[{"filter":"datum.panel == 'C'"}],"mark":{"type":"text","font":"DejaVu Sans","fontSize":11.1,"color":"#222","align":"left","baseline":"middle"},"encoding":{"x":{"datum":2,"type":"quantitative","scale":{"type":"linear","domain":[0,1,2,3,4,5,6,7,8,9,10],"range":[2,5,16,40,259.5,309.5,362.7,375,382,628,778],"zero":false,"nice":false},"axis":null},"y":{"field":"row","type":"quantitative","scale":{"domain":[-3.561,8.55],"reverse":true,"nice":false,"zero":false},"axis":null},"text":{"field":"study","type":"nominal"}}},
{"data":{"name":"studies"},"transform":[{"filter":"datum.panel == 'C'"}],"mark":{"type":"text","font":"DejaVu Sans","fontSize":11.1,"color":"#222","align":"right","baseline":"middle"},"encoding":{"x":{"datum":4,"type":"quantitative","scale":{"type":"linear","domain":[0,1,2,3,4,5,6,7,8,9,10],"range":[2,5,16,40,259.5,309.5,362.7,375,382,628,778],"zero":false,"nice":false},"axis":null},"y":{"field":"row","type":"quantitative","scale":{"domain":[-3.561,8.55],"reverse":true,"nice":false,"zero":false},"axis":null},"text":{"field":"lhr","type":"nominal"}}},
{"data":{"name":"studies"},"transform":[{"filter":"datum.panel == 'C'"}],"mark":{"type":"text","font":"DejaVu Sans","fontSize":11.1,"color":"#222","align":"right","baseline":"middle"},"encoding":{"x":{"datum":5,"type":"quantitative","scale":{"type":"linear","domain":[0,1,2,3,4,5,6,7,8,9,10],"range":[2,5,16,40,259.5,309.5,362.7,375,382,628,778],"zero":false,"nice":false},"axis":null},"y":{"field":"row","type":"quantitative","scale":{"domain":[-3.561,8.55],"reverse":true,"nice":false,"zero":false},"axis":null},"text":{"field":"se","type":"nominal"}}},
{"data":{"name":"studies"},"transform":[{"filter":"datum.panel == 'C'"}],"mark":{"type":"text","font":"DejaVu Sans","fontSize":11.1,"color":"#222","align":"right","baseline":"middle"},"encoding":{"x":{"datum":6,"type":"quantitative","scale":{"type":"linear","domain":[0,1,2,3,4,5,6,7,8,9,10],"range":[2,5,16,40,259.5,309.5,362.7,375,382,628,778],"zero":false,"nice":false},"axis":null},"y":{"field":"row","type":"quantitative","scale":{"domain":[-3.561,8.55],"reverse":true,"nice":false,"zero":false},"axis":null},"text":{"field":"w","type":"quantitative","format":".1%"}}},
{"data":{"name":"studies"},"transform":[{"filter":"datum.panel == 'C'"}],"mark":{"type":"text","font":"DejaVu Sans","fontSize":11.1,"color":"#222","align":"left","baseline":"middle"},"encoding":{"x":{"datum":8,"type":"quantitative","scale":{"type":"linear","domain":[0,1,2,3,4,5,6,7,8,9,10],"range":[2,5,16,40,259.5,309.5,362.7,375,382,628,778],"zero":false,"nice":false},"axis":null},"y":{"field":"row","type":"quantitative","scale":{"domain":[-3.561,8.55],"reverse":true,"nice":false,"zero":false},"axis":null},"text":{"field":"ci","type":"nominal"}}},
{"data":{"name":"totals"},"transform":[{"filter":"datum.panel == 'C'"}],"mark":{"type":"text","font":"DejaVu Sans","fontSize":10.5,"fontWeight":"bold","color":"#555","align":"left","baseline":"middle","dy":-2},"encoding":{"x":{"datum":2,"type":"quantitative","scale":{"type":"linear","domain":[0,1,2,3,4,5,6,7,8,9,10],"range":[2,5,16,40,259.5,309.5,362.7,375,382,628,778],"zero":false,"nice":false},"axis":null},"y":{"field":"row","type":"quantitative","scale":{"domain":[-3.561,8.55],"reverse":true,"nice":false,"zero":false},"axis":null},"text":{"field":"label","type":"nominal"}}},
{"data":{"name":"totals"},"transform":[{"filter":"datum.panel == 'C'"}],"mark":{"type":"text","font":"DejaVu Sans","fontSize":10.1,"fontWeight":"bold","color":"#555","align":"right","baseline":"middle","dy":-2},"encoding":{"x":{"datum":6,"type":"quantitative","scale":{"type":"linear","domain":[0,1,2,3,4,5,6,7,8,9,10],"range":[2,5,16,40,259.5,309.5,362.7,375,382,628,778],"zero":false,"nice":false},"axis":null},"y":{"field":"row","type":"quantitative","scale":{"domain":[-3.561,8.55],"reverse":true,"nice":false,"zero":false},"axis":null},"text":{"field":"w","type":"quantitative","format":".1%"}}},
{"data":{"name":"totals"},"transform":[{"filter":"datum.panel == 'C'"}],"mark":{"type":"text","font":"DejaVu Sans","fontSize":10.1,"fontWeight":"bold","color":"#444","align":"left","baseline":"middle","dy":-2},"encoding":{"x":{"datum":8,"type":"quantitative","scale":{"type":"linear","domain":[0,1,2,3,4,5,6,7,8,9,10],"range":[2,5,16,40,259.5,309.5,362.7,375,382,628,778],"zero":false,"nice":false},"axis":null},"y":{"field":"row","type":"quantitative","scale":{"domain":[-3.561,8.55],"reverse":true,"nice":false,"zero":false},"axis":null},"text":{"field":"ci","type":"nominal"}}},
{"data":{"name":"notes"},"transform":[{"filter":"datum.panel == 'C'"}],"mark":{"type":"text","font":"DejaVu Sans","fontSize":11.1,"color":"#222","align":"left","baseline":"middle"},"encoding":{"x":{"datum":2,"type":"quantitative","scale":{"type":"linear","domain":[0,1,2,3,4,5,6,7,8,9,10],"range":[2,5,16,40,259.5,309.5,362.7,375,382,628,778],"zero":false,"nice":false},"axis":null},"y":{"field":"row","type":"quantitative","scale":{"domain":[-3.561,8.55],"reverse":true,"nice":false,"zero":false},"axis":null},"text":{"field":"text","type":"nominal"}}},
{"mark":{"type":"rule","stroke":"#444","strokeWidth":1},"encoding":{"x":{"datum":1,"type":"quantitative","scale":{"type":"log","domain":[0.05,20],"range":[487.7,764.3],"nice":false},"axis":{"orient":"top","offset":-177.77,"values":[0.05,0.2,1,5,20],"grid":false,"domain":false,"labels":false,"ticks":true,"tickColor":"#000","tickSize":4,"tickWidth":1,"title":null}},"y":{"datum":-0.8,"type":"quantitative","scale":{"domain":[-3.561,8.55],"reverse":true,"nice":false,"zero":false},"axis":null},"y2":{"datum":6.65}}},
{"data":{"name":"studies"},"transform":[{"filter":"datum.panel == 'C'"}],"mark":{"type":"rule","stroke":"#333","strokeWidth":1,"yOffset":-4.3},"encoding":{"x":{"field":"lo","type":"quantitative","scale":{"type":"log","domain":[0.05,20],"range":[487.7,764.3],"nice":false},"axis":null},"x2":{"field":"hi"},"y":{"field":"row","type":"quantitative","scale":{"domain":[-3.561,8.55],"reverse":true,"nice":false,"zero":false},"axis":null}}},
{"data":{"name":"studies"},"transform":[{"filter":"datum.panel == 'C'"}],"mark":{"type":"point","shape":"square","filled":true,"color":"#c00000","opacity":1,"yOffset":-4.3},"encoding":{"x":{"field":"hr","type":"quantitative","scale":{"type":"log","domain":[0.05,20],"range":[487.7,764.3],"nice":false},"axis":{"orient":"bottom","offset":-33.08,"values":[0.05,0.2,1,5,20],"format":"~g","grid":false,"domainColor":"#000","domainWidth":1,"tickColor":"#000","tickSize":4,"tickWidth":1,"labelFont":"DejaVu Sans","labelFontSize":11.1,"labelColor":"#333","labelPadding":4,"labelFlush":true,"labelOverlap":false,"title":"Low PLR\u00a0\u00a0\u00a0\u00a0High PLR","titleFont":"DejaVu Sans","titleFontSize":11.5,"titleFontWeight":"normal","titleColor":"#444","titlePadding":5}},"y":{"field":"row","type":"quantitative","scale":{"domain":[-3.561,8.55],"reverse":true,"nice":false,"zero":false},"axis":null},"size":{"field":"w","type":"quantitative","scale":{"type":"pow","exponent":2,"domain":[0,1],"range":[4.4,388.4]},"legend":null}}},
{"data":{"name":"totals"},"transform":[{"filter":"datum.panel == 'C'"},{"fold":["lo","hr","hi"],"as":["key","x"]}],"mark":{"type":"area","color":"#000","yOffset":{"expr":"datum.key === 'hr' ? -12.5 : -6"},"y2Offset":{"expr":"datum.key === 'hr' ? 0.5 : -6"}},"encoding":{"x":{"field":"x","type":"quantitative","scale":{"type":"log","domain":[0.05,20],"range":[487.7,764.3],"nice":false},"axis":null},"y":{"field":"row","type":"quantitative","scale":{"domain":[-3.561,8.55],"reverse":true,"nice":false,"zero":false},"axis":null},"y2":{"field":"row"}}}
]
},
{
"width": 778, "height": 176.03,
"data": {"name": "titles"},
"transform": [{"filter": "datum.panel == 'D'"}],
"resolve": {"scale": {"x": "independent"}, "axis": {"x": "independent"}},
"layer": [
{"mark":{"type":"rule","stroke":"#707070","strokeWidth":1.5},"encoding":{"x":{"datum":1,"type":"quantitative","scale":{"type":"linear","domain":[0,1,2,3,4,5,6,7,8,9,10],"range":[2,5,16,40,259.5,309.5,362.7,375,382,628,778],"zero":false,"nice":false},"axis":null},"x2":{"datum":10},"y":{"datum":-0.8,"type":"quantitative","scale":{"domain":[-3.561,6.55],"reverse":true,"nice":false,"zero":false},"axis":null}}},
{"mark":{"type":"text","font":"Liberation Serif","fontSize":25,"color":"#000","align":"left","baseline":"alphabetic"},"encoding":{"x":{"datum":0,"type":"quantitative","scale":{"type":"linear","domain":[0,1,2,3,4,5,6,7,8,9,10],"range":[2,5,16,40,259.5,309.5,362.7,375,382,628,778],"zero":false,"nice":false},"axis":null},"y":{"datum":-2.263,"type":"quantitative","scale":{"domain":[-3.561,6.55],"reverse":true,"nice":false,"zero":false},"axis":null},"text":{"field":"letter","type":"nominal"}}},
{"mark":{"type":"text","font":"Liberation Serif","fontSize":21.5,"color":"#000","align":"left","baseline":"alphabetic"},"encoding":{"x":{"datum":3,"type":"quantitative","scale":{"type":"linear","domain":[0,1,2,3,4,5,6,7,8,9,10],"range":[2,5,16,40,259.5,309.5,362.7,375,382,628,778],"zero":false,"nice":false},"axis":null},"y":{"datum":-2.36,"type":"quantitative","scale":{"domain":[-3.561,6.55],"reverse":true,"nice":false,"zero":false},"axis":null},"text":{"field":"title","type":"nominal"}}},
{"data":{"name":"headers"},"transform":[{"filter":"datum.anchor == 'left'"}],"mark":{"type":"text","font":"DejaVu Sans","fontSize":10.7,"fontWeight":"bold","color":"#555","align":"left","baseline":"middle","dy":-1.2},"encoding":{"x":{"field":"col","type":"quantitative","scale":{"type":"linear","domain":[0,1,2,3,4,5,6,7,8,9,10],"range":[2,5,16,40,259.5,309.5,362.7,375,382,628,778],"zero":false,"nice":false},"axis":null},"y":{"field":"row","type":"quantitative","scale":{"domain":[-3.561,6.55],"reverse":true,"nice":false,"zero":false},"axis":null},"text":{"field":"text","type":"nominal"}}},
{"data":{"name":"headers"},"transform":[{"filter":"datum.anchor == 'right'"}],"mark":{"type":"text","font":"DejaVu Sans","fontSize":10.7,"fontWeight":"bold","color":"#555","align":"right","baseline":"middle","dy":-1.2},"encoding":{"x":{"field":"col","type":"quantitative","scale":{"type":"linear","domain":[0,1,2,3,4,5,6,7,8,9,10],"range":[2,5,16,40,259.5,309.5,362.7,375,382,628,778],"zero":false,"nice":false},"axis":null},"y":{"field":"row","type":"quantitative","scale":{"domain":[-3.561,6.55],"reverse":true,"nice":false,"zero":false},"axis":null},"text":{"field":"text","type":"nominal"}}},
{"data":{"name":"headers"},"transform":[{"filter":"datum.anchor == 'center'"}],"mark":{"type":"text","font":"DejaVu Sans","fontSize":10.7,"fontWeight":"bold","color":"#555","align":"center","baseline":"middle","dy":-1.2},"encoding":{"x":{"field":"col","type":"quantitative","scale":{"type":"linear","domain":[0,1,2,3,4,5,6,7,8,9,10],"range":[2,5,16,40,259.5,309.5,362.7,375,382,628,778],"zero":false,"nice":false},"axis":null},"y":{"field":"row","type":"quantitative","scale":{"domain":[-3.561,6.55],"reverse":true,"nice":false,"zero":false},"axis":null},"text":{"field":"text","type":"nominal"}}},
{"data":{"name":"studies"},"transform":[{"filter":"datum.panel == 'D'"}],"mark":{"type":"text","font":"DejaVu Sans","fontSize":11.1,"color":"#222","align":"left","baseline":"middle"},"encoding":{"x":{"datum":2,"type":"quantitative","scale":{"type":"linear","domain":[0,1,2,3,4,5,6,7,8,9,10],"range":[2,5,16,40,259.5,309.5,362.7,375,382,628,778],"zero":false,"nice":false},"axis":null},"y":{"field":"row","type":"quantitative","scale":{"domain":[-3.561,6.55],"reverse":true,"nice":false,"zero":false},"axis":null},"text":{"field":"study","type":"nominal"}}},
{"data":{"name":"studies"},"transform":[{"filter":"datum.panel == 'D'"}],"mark":{"type":"text","font":"DejaVu Sans","fontSize":11.1,"color":"#222","align":"right","baseline":"middle"},"encoding":{"x":{"datum":4,"type":"quantitative","scale":{"type":"linear","domain":[0,1,2,3,4,5,6,7,8,9,10],"range":[2,5,16,40,259.5,309.5,362.7,375,382,628,778],"zero":false,"nice":false},"axis":null},"y":{"field":"row","type":"quantitative","scale":{"domain":[-3.561,6.55],"reverse":true,"nice":false,"zero":false},"axis":null},"text":{"field":"lhr","type":"nominal"}}},
{"data":{"name":"studies"},"transform":[{"filter":"datum.panel == 'D'"}],"mark":{"type":"text","font":"DejaVu Sans","fontSize":11.1,"color":"#222","align":"right","baseline":"middle"},"encoding":{"x":{"datum":5,"type":"quantitative","scale":{"type":"linear","domain":[0,1,2,3,4,5,6,7,8,9,10],"range":[2,5,16,40,259.5,309.5,362.7,375,382,628,778],"zero":false,"nice":false},"axis":null},"y":{"field":"row","type":"quantitative","scale":{"domain":[-3.561,6.55],"reverse":true,"nice":false,"zero":false},"axis":null},"text":{"field":"se","type":"nominal"}}},
{"data":{"name":"studies"},"transform":[{"filter":"datum.panel == 'D'"}],"mark":{"type":"text","font":"DejaVu Sans","fontSize":11.1,"color":"#222","align":"right","baseline":"middle"},"encoding":{"x":{"datum":6,"type":"quantitative","scale":{"type":"linear","domain":[0,1,2,3,4,5,6,7,8,9,10],"range":[2,5,16,40,259.5,309.5,362.7,375,382,628,778],"zero":false,"nice":false},"axis":null},"y":{"field":"row","type":"quantitative","scale":{"domain":[-3.561,6.55],"reverse":true,"nice":false,"zero":false},"axis":null},"text":{"field":"w","type":"quantitative","format":".1%"}}},
{"data":{"name":"studies"},"transform":[{"filter":"datum.panel == 'D'"}],"mark":{"type":"text","font":"DejaVu Sans","fontSize":11.1,"color":"#222","align":"left","baseline":"middle"},"encoding":{"x":{"datum":8,"type":"quantitative","scale":{"type":"linear","domain":[0,1,2,3,4,5,6,7,8,9,10],"range":[2,5,16,40,259.5,309.5,362.7,375,382,628,778],"zero":false,"nice":false},"axis":null},"y":{"field":"row","type":"quantitative","scale":{"domain":[-3.561,6.55],"reverse":true,"nice":false,"zero":false},"axis":null},"text":{"field":"ci","type":"nominal"}}},
{"data":{"name":"totals"},"transform":[{"filter":"datum.panel == 'D'"}],"mark":{"type":"text","font":"DejaVu Sans","fontSize":10.5,"fontWeight":"bold","color":"#555","align":"left","baseline":"middle","dy":-2},"encoding":{"x":{"datum":2,"type":"quantitative","scale":{"type":"linear","domain":[0,1,2,3,4,5,6,7,8,9,10],"range":[2,5,16,40,259.5,309.5,362.7,375,382,628,778],"zero":false,"nice":false},"axis":null},"y":{"field":"row","type":"quantitative","scale":{"domain":[-3.561,6.55],"reverse":true,"nice":false,"zero":false},"axis":null},"text":{"field":"label","type":"nominal"}}},
{"data":{"name":"totals"},"transform":[{"filter":"datum.panel == 'D'"}],"mark":{"type":"text","font":"DejaVu Sans","fontSize":10.1,"fontWeight":"bold","color":"#555","align":"right","baseline":"middle","dy":-2},"encoding":{"x":{"datum":6,"type":"quantitative","scale":{"type":"linear","domain":[0,1,2,3,4,5,6,7,8,9,10],"range":[2,5,16,40,259.5,309.5,362.7,375,382,628,778],"zero":false,"nice":false},"axis":null},"y":{"field":"row","type":"quantitative","scale":{"domain":[-3.561,6.55],"reverse":true,"nice":false,"zero":false},"axis":null},"text":{"field":"w","type":"quantitative","format":".1%"}}},
{"data":{"name":"totals"},"transform":[{"filter":"datum.panel == 'D'"}],"mark":{"type":"text","font":"DejaVu Sans","fontSize":10.1,"fontWeight":"bold","color":"#444","align":"left","baseline":"middle","dy":-2},"encoding":{"x":{"datum":8,"type":"quantitative","scale":{"type":"linear","domain":[0,1,2,3,4,5,6,7,8,9,10],"range":[2,5,16,40,259.5,309.5,362.7,375,382,628,778],"zero":false,"nice":false},"axis":null},"y":{"field":"row","type":"quantitative","scale":{"domain":[-3.561,6.55],"reverse":true,"nice":false,"zero":false},"axis":null},"text":{"field":"ci","type":"nominal"}}},
{"data":{"name":"notes"},"transform":[{"filter":"datum.panel == 'D'"}],"mark":{"type":"text","font":"DejaVu Sans","fontSize":11.1,"color":"#222","align":"left","baseline":"middle"},"encoding":{"x":{"datum":2,"type":"quantitative","scale":{"type":"linear","domain":[0,1,2,3,4,5,6,7,8,9,10],"range":[2,5,16,40,259.5,309.5,362.7,375,382,628,778],"zero":false,"nice":false},"axis":null},"y":{"field":"row","type":"quantitative","scale":{"domain":[-3.561,6.55],"reverse":true,"nice":false,"zero":false},"axis":null},"text":{"field":"text","type":"nominal"}}},
{"mark":{"type":"rule","stroke":"#444","strokeWidth":1},"encoding":{"x":{"datum":1,"type":"quantitative","scale":{"type":"log","domain":[0.05,20],"range":[487.7,764.3],"nice":false},"axis":{"orient":"top","offset":-142.95,"values":[0.05,0.2,1,5,20],"grid":false,"domain":false,"labels":false,"ticks":true,"tickColor":"#000","tickSize":4,"tickWidth":1,"title":null}},"y":{"datum":-0.8,"type":"quantitative","scale":{"domain":[-3.561,6.55],"reverse":true,"nice":false,"zero":false},"axis":null},"y2":{"datum":4.65}}},
{"data":{"name":"studies"},"transform":[{"filter":"datum.panel == 'D'"}],"mark":{"type":"rule","stroke":"#333","strokeWidth":1,"yOffset":-4.3},"encoding":{"x":{"field":"lo","type":"quantitative","scale":{"type":"log","domain":[0.05,20],"range":[487.7,764.3],"nice":false},"axis":null},"x2":{"field":"hi"},"y":{"field":"row","type":"quantitative","scale":{"domain":[-3.561,6.55],"reverse":true,"nice":false,"zero":false},"axis":null}}},
{"data":{"name":"studies"},"transform":[{"filter":"datum.panel == 'D'"}],"mark":{"type":"point","shape":"square","filled":true,"color":"#c00000","opacity":1,"yOffset":-4.3},"encoding":{"x":{"field":"hr","type":"quantitative","scale":{"type":"log","domain":[0.05,20],"range":[487.7,764.3],"nice":false},"axis":{"orient":"bottom","offset":-33.08,"values":[0.05,0.2,1,5,20],"format":"~g","grid":false,"domainColor":"#000","domainWidth":1,"tickColor":"#000","tickSize":4,"tickWidth":1,"labelFont":"DejaVu Sans","labelFontSize":11.1,"labelColor":"#333","labelPadding":4,"labelFlush":true,"labelOverlap":false,"title":"Low PLR\u00a0\u00a0\u00a0\u00a0High PLR","titleFont":"DejaVu Sans","titleFontSize":11.5,"titleFontWeight":"normal","titleColor":"#444","titlePadding":5}},"y":{"field":"row","type":"quantitative","scale":{"domain":[-3.561,6.55],"reverse":true,"nice":false,"zero":false},"axis":null},"size":{"field":"w","type":"quantitative","scale":{"type":"pow","exponent":2,"domain":[0,1],"range":[4.4,388.4]},"legend":null}}},
{"data":{"name":"totals"},"transform":[{"filter":"datum.panel == 'D'"},{"fold":["lo","hr","hi"],"as":["key","x"]}],"mark":{"type":"area","color":"#000","yOffset":{"expr":"datum.key === 'hr' ? -12.5 : -6"},"y2Offset":{"expr":"datum.key === 'hr' ? 0.5 : -6"}},"encoding":{"x":{"field":"x","type":"quantitative","scale":{"type":"log","domain":[0.05,20],"range":[487.7,764.3],"nice":false},"axis":null},"y":{"field":"row","type":"quantitative","scale":{"domain":[-3.561,6.55],"reverse":true,"nice":false,"zero":false},"axis":null},"y2":{"field":"row"}}}
]
}
]
}
